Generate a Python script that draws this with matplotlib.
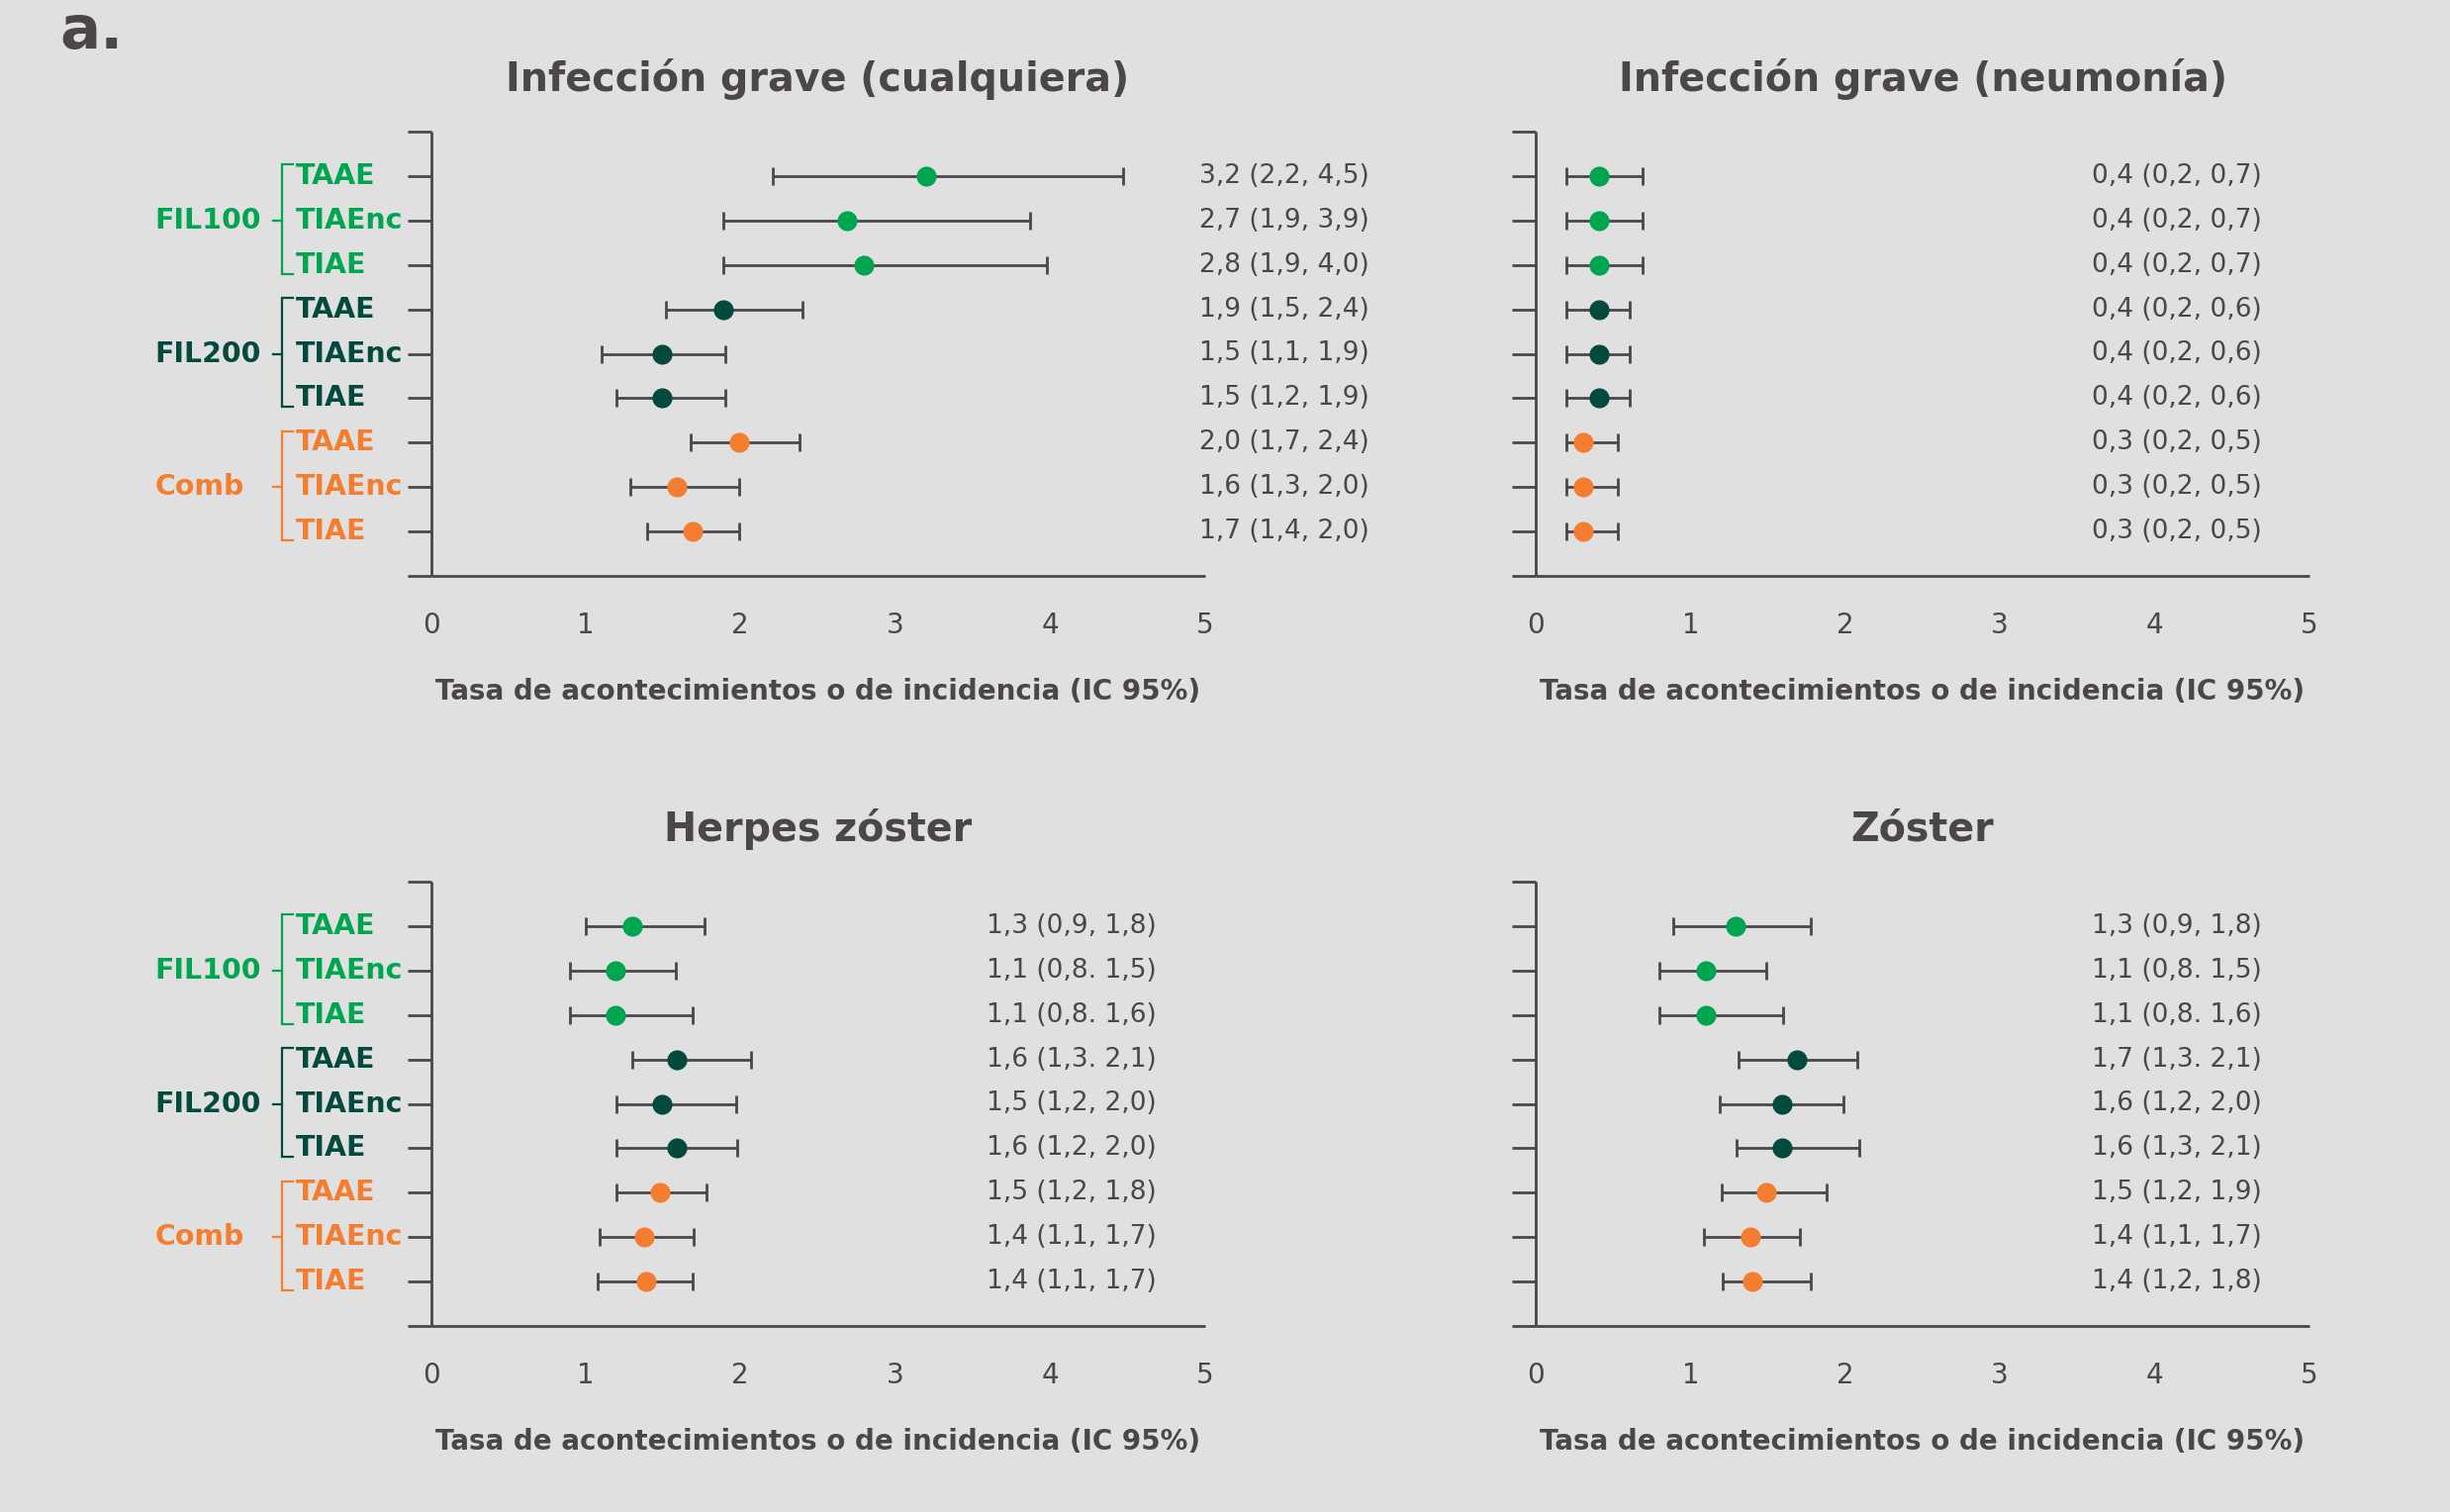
import matplotlib
matplotlib.use("Agg")
import matplotlib.pyplot as plt

# ---------------- data ----------------
group_names = ["FIL100", "FIL200", "Comb"]
row_labels = ["TAAE", "TIAEnc", "TIAE", "TAAE", "TIAEnc", "TIAE", "TAAE", "TIAEnc", "TIAE"]
row_group = [0, 0, 0, 1, 1, 1, 2, 2, 2]

titles = ["Infección grave (cualquiera)", "Infección grave (neumonía)",
          "Herpes zóster", "Zóster"]
xlabel = "Tasa de acontecimientos o de incidencia (IC 95%)"
xticks = [0, 1, 2, 3, 4, 5]

cual_est = [3.20, 2.69, 2.80, 1.89, 1.49, 1.49, 1.99, 1.59, 1.69]
cual_lo = [2.21, 1.89, 1.89, 1.52, 1.10, 1.20, 1.68, 1.29, 1.40]
cual_hi = [4.47, 3.87, 3.98, 2.40, 1.90, 1.90, 2.38, 1.99, 1.99]
cual_txt = ["3,2 (2,2, 4,5)", "2,7 (1,9, 3,9)", "2,8 (1,9, 4,0)",
            "1,9 (1,5, 2,4)", "1,5 (1,1, 1,9)", "1,5 (1,2, 1,9)",
            "2,0 (1,7, 2,4)", "1,6 (1,3, 2,0)", "1,7 (1,4, 2,0)"]

neum_est = [0.41, 0.41, 0.41, 0.41, 0.41, 0.41, 0.31, 0.31, 0.31]
neum_lo = [0.20, 0.20, 0.20, 0.20, 0.20, 0.20, 0.20, 0.20, 0.20]
neum_hi = [0.69, 0.69, 0.69, 0.61, 0.61, 0.61, 0.53, 0.53, 0.53]
neum_txt = ["0,4 (0,2, 0,7)", "0,4 (0,2, 0,7)", "0,4 (0,2, 0,7)",
            "0,4 (0,2, 0,6)", "0,4 (0,2, 0,6)", "0,4 (0,2, 0,6)",
            "0,3 (0,2, 0,5)", "0,3 (0,2, 0,5)", "0,3 (0,2, 0,5)"]

herp_est = [1.30, 1.19, 1.19, 1.59, 1.49, 1.59, 1.48, 1.38, 1.39]
herp_lo = [1.00, 0.90, 0.90, 1.30, 1.20, 1.20, 1.20, 1.09, 1.08]
herp_hi = [1.77, 1.58, 1.69, 2.07, 1.97, 1.98, 1.78, 1.70, 1.69]
herp_txt = ["1,3 (0,9, 1,8)", "1,1 (0,8. 1,5)", "1,1 (0,8. 1,6)",
            "1,6 (1,3. 2,1)", "1,5 (1,2, 2,0)", "1,6 (1,2, 2,0)",
            "1,5 (1,2, 1,8)", "1,4 (1,1, 1,7)", "1,4 (1,1, 1,7)"]

zost_est = [1.29, 1.10, 1.10, 1.69, 1.59, 1.59, 1.49, 1.39, 1.40]
zost_lo = [0.89, 0.80, 0.80, 1.31, 1.19, 1.30, 1.20, 1.09, 1.21]
zost_hi = [1.78, 1.49, 1.60, 2.08, 1.99, 2.09, 1.88, 1.71, 1.78]
zost_txt = ["1,3 (0,9, 1,8)", "1,1 (0,8. 1,5)", "1,1 (0,8. 1,6)",
            "1,7 (1,3. 2,1)", "1,6 (1,2, 2,0)", "1,6 (1,3, 2,1)",
            "1,5 (1,2, 1,9)", "1,4 (1,1, 1,7)", "1,4 (1,2, 1,8)"]

# ---------------- style ----------------
BG = "#DFE0DF"
INK = "#4B464A"
GROUP_COLORS = ["#00A550", "#024A3D", "#F47D30"]
LW = 2.0

plt.rcParams["font.family"] = ["DejaVu Sans"]

W, H = 2476, 1528
fig = plt.figure(figsize=(W / 100, H / 100), dpi=100, facecolor=BG)


def fx(px):
    return px / W


def fy(px):
    return 1 - px / H


ax_w = fx(1217.5) - fx(435.5)
ax_h = (582 - 133) / H
positions = [
    (fx(435.5), fy(582)),
    (fx(1552), fy(582)),
    (fx(435.5), fy(1340)),
    (fx(1552), fy(1340)),
]
panels = [
    (cual_est, cual_lo, cual_hi, cual_txt, 6.06),
    (neum_est, neum_lo, neum_hi, neum_txt, 4.69),
    (herp_est, herp_lo, herp_hi, herp_txt, 4.69),
    (zost_est, zost_lo, zost_hi, zost_txt, 4.69),
]

n = len(row_labels)
rows = list(range(n))

for i, ((x0, y0), (est, lo, hi, txt, txt_x)) in enumerate(zip(positions, panels)):
    ax = fig.add_axes([x0, y0, ax_w, ax_h])
    ax.set_facecolor(BG)
    ax.patch.set_alpha(0)
    ax.set_xlim(0, 5)
    ax.set_ylim(n, -1)

    for side in ("top", "right"):
        ax.spines[side].set_visible(False)
    for side in ("left", "bottom"):
        ax.spines[side].set_color(INK)
        ax.spines[side].set_linewidth(LW)
        ax.spines[side].set_capstyle("butt")

    ax.set_yticks(range(-1, n + 1))
    ax.set_yticklabels([])
    ax.tick_params(axis="y", length=17, width=LW, color=INK, direction="out")
    ax.set_xticks(xticks)
    ax.set_xticklabels([str(t) for t in xticks])
    ax.tick_params(axis="x", which="major", length=0, pad=26,
                   labelsize=20, labelcolor=INK)
    ax.set_xticks([5], minor=True)
    ax.tick_params(axis="x", which="minor", length=5, width=LW,
                   color=INK, direction="out")

    # error bars and points
    for g in range(len(group_names)):
        idx = [k for k in rows if row_group[k] == g]
        e = [est[k] for k in idx]
        l = [est[k] - lo[k] for k in idx]
        h = [hi[k] - est[k] for k in idx]
        ax.errorbar(e, idx, xerr=[l, h], fmt="none", ecolor=INK,
                    elinewidth=LW, capsize=6.3, capthick=LW, zorder=2)
        ax.plot(e, idx, "o", color=GROUP_COLORS[g], markersize=14.5,
                markeredgewidth=0, zorder=3)

    # value labels
    for k in rows:
        ax.text(txt_x, k, txt[k], ha="right", va="center", fontsize=19,
                color=INK, clip_on=False)

    ax.set_title(titles[i], fontsize=28.5, fontweight="bold", color=INK,
                 y=1 + 53 / 449, pad=0, va="center")
    ax.set_xlabel(xlabel, fontsize=20, fontweight="bold", color=INK)
    ax.xaxis.set_label_coords(0.5, -0.26)
    ax.xaxis.label.set_va("center")

    # row / group labels for left panels
    if i in (0, 2):
        for k in rows:
            ax.text(-0.873, k, row_labels[k], ha="left", va="center",
                    fontsize=20.4, fontweight="bold",
                    color=GROUP_COLORS[row_group[k]], clip_on=False)
        for g, name in enumerate(group_names):
            idx = [k for k in rows if row_group[k] == g]
            top, mid, bot = idx[0] - 0.26, idx[1], idx[-1] + 0.2
            c = GROUP_COLORS[g]
            ax.plot([-0.892, -0.962, -0.962, -0.892], [top, top, bot, bot],
                    color=c, lw=1.6, clip_on=False, solid_joinstyle="miter")
            ax.plot([-1.02, -0.962], [mid, mid], color=c, lw=1.6, clip_on=False)
            ax.text(-1.782, mid, name, ha="left", va="center", fontsize=20.4,
                    fontweight="bold", color=c, clip_on=False)

fig.text(fx(60), fy(33), "a.", fontsize=44, fontweight="bold", color=INK,
         ha="left", va="center")

fig.savefig("out.png", dpi=100, facecolor=BG)
